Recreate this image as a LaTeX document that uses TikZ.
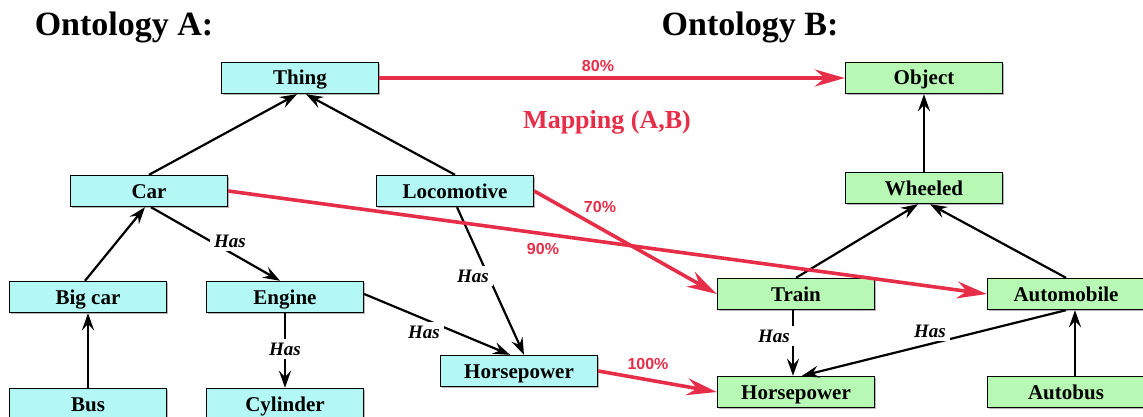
\documentclass[tikz,border=0pt]{standalone}
\usepackage{fontspec}
\setmainfont{Liberation Serif}
\newfontfamily\pctfont{Liberation Sans}
\usetikzlibrary{arrows.meta,shadows}
\definecolor{mapred}{RGB}{230,46,72}
\definecolor{boxcyan}{RGB}{180,248,246}
\definecolor{boxgreen}{RGB}{182,248,180}
\begin{document}
\begin{tikzpicture}[x=1pt,y=-1pt,
 cls/.style={draw=black, line width=1.4pt, minimum width=157pt, minimum height=31pt, inner sep=0pt,
   text height=14pt, text depth=0pt, font=\fontsize{21}{23}\selectfont\bfseries,
   drop shadow={shadow xshift=1.2pt,shadow yshift=-1.2pt,fill=black!40,opacity=0.7}},
 clsA/.style={cls, fill=boxcyan},
 clsB/.style={cls, fill=boxgreen},
 isa/.style={draw=black, line width=2.2pt, -{Stealth[length=17pt,width=12pt,inset=6pt]}},
 map/.style={draw=mapred, line width=3.6pt, -{Stealth[length=30pt,width=17pt,inset=10pt]}},
 haslbl/.style={fill=white, inner sep=4pt, font=\fontsize{19}{21}\selectfont\bfseries\itshape},
 pct/.style={text=mapred, inner sep=1pt, font=\pctfont\fontsize{16}{18}\selectfont\bfseries},
 ttl/.style={font=\fontsize{34}{38}\selectfont\bfseries}
]
\useasboundingbox (0,0) rectangle (1143,417);
\clip (0,0) rectangle (1143,417);

% titles
\node[ttl] (ta) at (124,27) {Ontology A:};
\node[ttl] (tb) at (750,27) {Ontology B:};
\node[text=mapred, font=\fontsize{26}{28}\selectfont\bfseries] (mp) at (607,122) {Mapping (A,B)};

% ontology A
\node[clsA] (thing) at (300,78) {Thing};
\node[clsA] (car) at (149,191) {Car};
\node[clsA] (loco) at (455,191) {Locomotive};
\node[clsA] (bigcar) at (88,297) {Big car};
\node[clsA] (engine) at (285,297) {Engine};
\node[clsA] (bus) at (88,404) {Bus};
\node[clsA] (cyl) at (285,404) {Cylinder};
\node[clsA] (hpa) at (519,371) {Horsepower};

% ontology B
\node[clsB] (object) at (924,78) {Object};
\node[clsB] (wheeled) at (924,188) {Wheeled};
\node[clsB] (train) at (796,294) {Train};
\node[clsB] (auto) at (1066,294) {Automobile};
\node[clsB] (hpb) at (796,392) {Horsepower};
\node[clsB] (autobus) at (1066,392) {Autobus};

% is-a edges A
\draw[isa] (car.north) -- ([xshift=-3pt]thing.south);
\draw[isa] (loco.north) -- ([xshift=6pt]thing.south);
\draw[isa] ([xshift=-3pt]bigcar.north) -- ([xshift=-4pt]car.south);
\draw[isa] (bus.north) -- (bigcar.south);

% has edges A
\draw[isa] ([xshift=2pt]car.south) -- ([xshift=-5pt]engine.north);
\draw[isa] (engine.south) -- (cyl.north);
\draw[isa] ([yshift=3pt]engine.east) -- ([xshift=-9pt]hpa.north);
\draw[isa] ([xshift=2pt]loco.south) -- ([xshift=5pt]hpa.north);

% is-a edges B
\draw[isa] (wheeled.north) -- (object.south);
\draw[isa] (train.north) -- ([xshift=-6pt]wheeled.south);
\draw[isa] (auto.north) -- ([xshift=6pt]wheeled.south);
\draw[isa] ([xshift=9pt]autobus.north) -- ([xshift=9pt]auto.south);

% has edges B
\draw[isa] ([xshift=-3pt]train.south) -- ([xshift=-3pt]hpb.north);
\draw[isa] (auto.south) -- ([xshift=6pt]hpb.north);

% Has labels
\node[haslbl] (h1) at (230,241) {Has};
\node[haslbl] (h2) at (285,349) {Has};
\node[haslbl] (h3) at (424,332) {Has};
\node[haslbl] (h4) at (473,276) {Has};
\node[haslbl] (h5) at (774,336) {Has};
\node[haslbl] (h6) at (930,331) {Has};

% mappings
\draw[map] (thing.east) -- (object.west);
\draw[map] (car.east) -- (auto.west);
\draw[map] (loco.east) -- (train.west);
\draw[map] (hpa.east) -- (hpb.west);

\node[pct] (p80) at (598,66) {80\%};
\node[pct] (p90) at (543,249) {90\%};
\node[pct] (p70) at (600,207) {70\%};
\node[pct] (p100) at (648,364) {100\%};
\end{tikzpicture}
\end{document}
